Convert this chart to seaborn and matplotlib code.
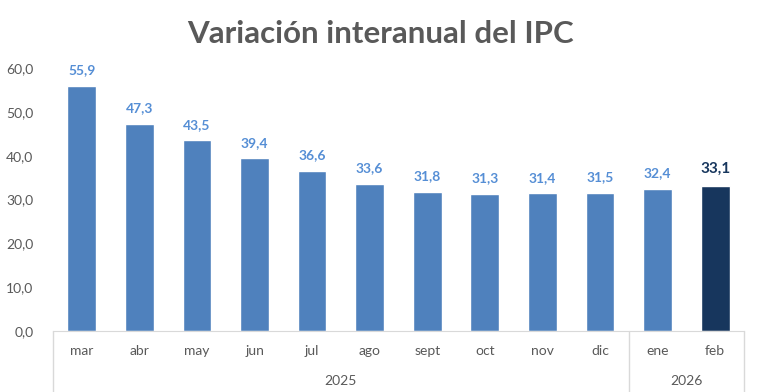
import matplotlib
matplotlib.use('Agg')
import matplotlib.pyplot as plt
import matplotlib.transforms as mtransforms
import pandas as pd
import seaborn as sns

# Data
months = ['mar', 'abr', 'may', 'jun', 'jul', 'ago', 'sept', 'oct', 'nov', 'dic', 'ene', 'feb']
values = [55.9, 47.3, 43.5, 39.4, 36.6, 33.6, 31.8, 31.3, 31.4, 31.5, 32.4, 33.1]
years = ['2025'] * 10 + ['2026'] * 2
y_ticks = [0, 10, 20, 30, 40, 50, 60]

df = pd.DataFrame({'month': months, 'value': values, 'year': years})

blue = '#4F81BD'
navy = '#17365D'
grey = '#595959'
colors = [blue] * (len(months) - 1) + [navy]

sns.set_style('white')
plt.rcParams['font.family'] = ['Lato', 'DejaVu Sans']

fig = plt.figure(figsize=(7.6, 3.92), dpi=100)
ax = fig.add_axes([0.0697, 0.1556, 0.9092, 0.6709])

sns.barplot(data=df, x='month', y='value', hue='month', palette=colors,
            legend=False, width=0.5, saturation=1, ax=ax)

ax.set_ylim(0, 60)
ax.set_xlim(-0.5, len(months) - 0.5)
ax.set_yticks(y_ticks)
ax.set_yticklabels([f'{t:.1f}'.replace('.', ',') for t in y_ticks], color=grey, fontsize=10)
ax.set_xticks(range(len(months)))
ax.set_xticklabels(months, color=grey, fontsize=10)
ax.tick_params(axis='y', length=0, pad=14)
ax.tick_params(axis='x', length=0, pad=10)
ax.set_xlabel('')
ax.set_ylabel('')

for s in ['left', 'right', 'top']:
    ax.spines[s].set_visible(False)
ax.spines['bottom'].set_color('#D9D9D9')

# data labels
for i, v in enumerate(values):
    last = i == len(values) - 1
    ax.text(i, v + 2.2, f'{v:.1f}'.replace('.', ','), ha='center', va='bottom',
            color=navy if last else '#558ED5', fontweight='bold',
            fontsize=11 if last else 10, clip_on=False)

# year group separators and labels
trans = mtransforms.blended_transform_factory(ax.transData, ax.transAxes)
bounds = [-0.5]
for i in range(1, len(years)):
    if years[i] != years[i - 1]:
        bounds.append(i - 0.5)
bounds.append(len(years) - 0.5)
for b in bounds:
    ax.plot([b, b], [0, -0.25], color='#D9D9D9', lw=1, transform=trans, clip_on=False)
for k in range(len(bounds) - 1):
    ax.text((bounds[k] + bounds[k + 1]) / 2, -0.19, sorted(set(years))[k],
            ha='center', va='center', color=grey, fontsize=10, transform=trans)

fig.suptitle('Variación interanual del IPC', x=0.5, y=0.95, color=grey,
             fontsize=22.5, fontweight='bold')

fig.savefig('out.png', dpi=100)
